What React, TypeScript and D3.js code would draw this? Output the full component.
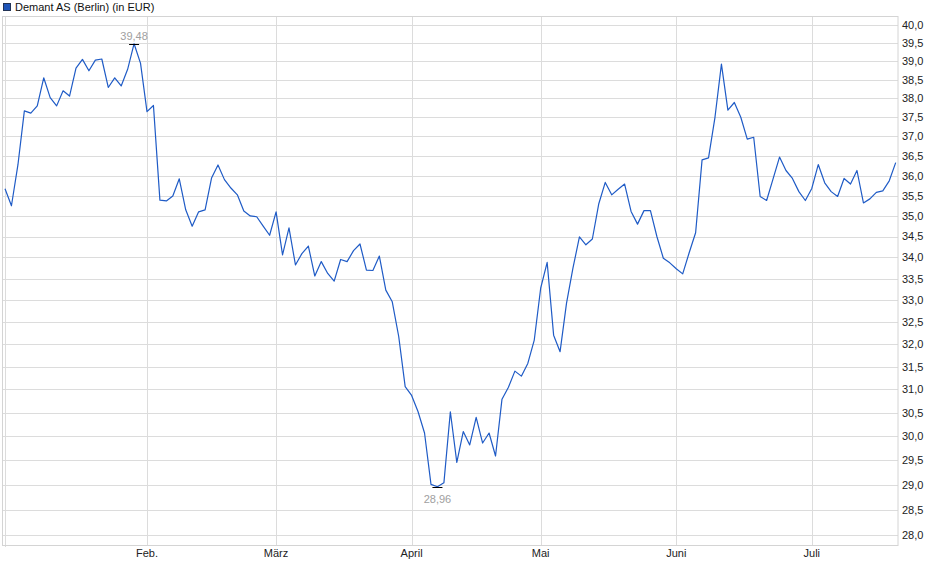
import React, { useEffect, useRef } from 'react';
import * as d3 from 'd3';

// daily closing prices, Berlin (EUR), one per trading day from 2 Jan
const prices: number[] = [
  35.67, 35.25, 36.27, 37.67, 37.61, 37.80, 38.55, 38.02, 37.80, 38.20,
  38.06, 38.81, 39.05, 38.74, 39.03, 39.06, 38.29, 38.55, 38.33, 38.78,
  39.48, 38.94, 37.65, 37.81, 35.39, 35.37, 35.49, 35.92, 35.15, 34.75,
  35.10, 35.15, 35.94, 36.27, 35.90, 35.69, 35.52, 35.12, 35.00, 34.98,
  34.75, 34.53, 35.10, 34.06, 34.71, 33.82, 34.09, 34.27, 33.56, 33.90,
  33.62, 33.44, 33.95, 33.90, 34.16, 34.32, 33.70, 33.69, 34.03, 33.23,
  32.96, 32.17, 31.06, 30.87, 30.52, 30.07, 29.01, 28.96, 29.04, 30.52,
  29.46, 30.10, 29.82, 30.40, 29.86, 30.07, 29.59, 30.79, 31.05, 31.40,
  31.29, 31.57, 32.09, 33.28, 33.88, 32.20, 31.83, 32.93, 33.75, 34.49,
  34.30, 34.44, 35.30, 35.83, 35.52, 35.66, 35.79, 35.11, 34.80, 35.13,
  35.13, 34.50, 33.98, 33.87, 33.73, 33.61, 34.11, 34.59, 36.40, 36.45,
  37.50, 38.92, 37.69, 37.89, 37.50, 36.93, 36.98, 35.48, 35.38, 35.92,
  36.47, 36.13, 35.93, 35.60, 35.38, 35.68, 36.28, 35.82, 35.60, 35.48,
  35.93, 35.79, 36.13, 35.32, 35.42, 35.58, 35.62, 35.87, 36.33,
];

// first trading day of each month (index into prices)
const monthLabels = ['Feb.', 'März', 'April', 'Mai', 'Juni', 'Juli'];
const monthStarts = [22, 42, 63, 83, 104, 125];

const yTicks = d3.range(28, 40.001, 0.5);
const seriesName = 'Demant AS (Berlin) (in EUR)';

const W = 940;
const H = 579;
const FONT = '"Liberation Sans", Arial, sans-serif';

const fmt = (v: number) => d3.format('.2f')(v).replace('.', ',');
const fmtTick = (v: number) => d3.format('.1f')(v).replace('.', ',');

const PriceChart: React.FC = () => {
  const svgRef = useRef<SVGSVGElement>(null);

  useEffect(() => {
    if (!svgRef.current) return;
    const svg = d3.select(svgRef.current);
    svg.selectAll('*').remove();

    const frame = { left: 2.5, right: 898, top: 16, bottom: 545 };

    const x = d3.scaleLinear()
      .domain([0, prices.length - 1])
      .range([5, 895.7]);

    const y = d3.scaleLog()
      .domain([28, 40])
      .range([535, 25]);

    // legend
    svg.append('rect')
      .attr('x', 3.5).attr('y', 3.5)
      .attr('width', 7).attr('height', 7)
      .attr('fill', '#1f55b8')
      .attr('stroke', '#223355')
      .attr('stroke-width', 1);
    svg.append('text')
      .attr('x', 15).attr('y', 10.5)
      .style('font-family', FONT)
      .style('font-size', '11px')
      .style('fill', '#111')
      .text(seriesName);

    // horizontal grid + labels
    const grid = svg.append('g');
    grid.selectAll('.hgrid')
      .data(yTicks)
      .enter()
      .append('line')
      .attr('x1', frame.left).attr('x2', frame.right)
      .attr('y1', d => Math.round(y(d)) + 0.5)
      .attr('y2', d => Math.round(y(d)) + 0.5)
      .attr('stroke', '#dcdcdc')
      .attr('stroke-width', 1);

    svg.selectAll('.ylab')
      .data(yTicks)
      .enter()
      .append('text')
      .attr('x', 902)
      .attr('y', d => y(d))
      .attr('dy', '0.36em')
      .style('font-family', FONT)
      .style('font-size', '11px')
      .style('fill', '#222')
      .text(d => fmtTick(d));

    // vertical month grid
    grid.append('line')
      .attr('x1', 5.5).attr('x2', 5.5)
      .attr('y1', frame.top).attr('y2', frame.bottom + 2)
      .attr('stroke', '#dcdcdc');

    grid.selectAll('.vgrid')
      .data(monthStarts)
      .enter()
      .append('line')
      .attr('x1', d => Math.round(x(d)) + 0.5)
      .attr('x2', d => Math.round(x(d)) + 0.5)
      .attr('y1', frame.top).attr('y2', frame.bottom)
      .attr('stroke', '#dcdcdc');

    svg.selectAll('.xlab')
      .data(monthStarts)
      .enter()
      .append('text')
      .attr('x', d => x(d))
      .attr('y', 557)
      .attr('text-anchor', 'middle')
      .style('font-family', FONT)
      .style('font-size', '11px')
      .style('fill', '#222')
      .text((_, i) => monthLabels[i]);

    // frame
    svg.append('rect')
      .attr('x', frame.left).attr('y', frame.top + 0.5)
      .attr('width', frame.right - frame.left)
      .attr('height', frame.bottom - frame.top)
      .attr('fill', 'none')
      .attr('stroke', '#d4d4d4');

    // price line
    const line = d3.line<number>()
      .x((_, i) => x(i))
      .y(d => y(d));

    svg.append('path')
      .datum(prices)
      .attr('d', line)
      .attr('fill', 'none')
      .attr('stroke', '#1f5bc6')
      .attr('stroke-width', 1.2)
      .attr('stroke-linejoin', 'round');

    // high / low markers
    const hiIdx = d3.maxIndex(prices);
    const loIdx = d3.minIndex(prices);
    const marks = [
      { i: hiIdx, v: prices[hiIdx], dy: -5 },
      { i: loIdx, v: prices[loIdx], dy: 15 },
    ];
    marks.forEach(m => {
      const px = x(m.i);
      const py = Math.round(y(m.v)) + 0.5;
      svg.append('line')
        .attr('x1', px - 5).attr('x2', px + 5)
        .attr('y1', py).attr('y2', py)
        .attr('stroke', '#000')
        .attr('stroke-width', 1);
      svg.append('text')
        .attr('x', px)
        .attr('y', py + m.dy)
        .attr('text-anchor', 'middle')
        .style('font-family', FONT)
        .style('font-size', '11px')
        .style('fill', '#a0a0a0')
        .text(fmt(m.v));
    });
  }, []);

  return (
    <svg
      ref={svgRef}
      width={W}
      height={H}
      style={{ position: 'absolute', left: 0, top: 0, background: '#fff' }}
    />
  );
};

export default function App() {
  return <PriceChart />;
}
